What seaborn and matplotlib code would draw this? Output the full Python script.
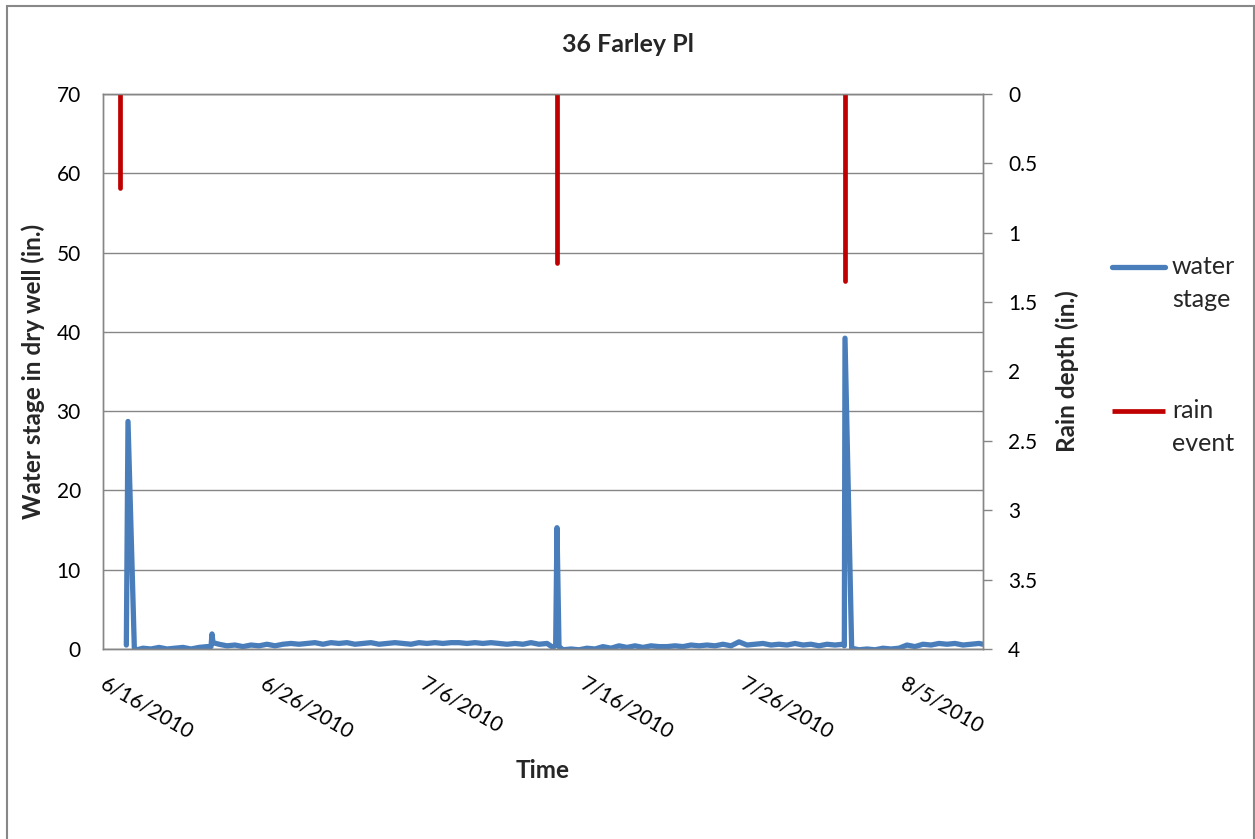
import numpy as np
import pandas as pd
import matplotlib
matplotlib.use("Agg")
import matplotlib.pyplot as plt
import matplotlib.dates as mdates
import matplotlib.transforms as mtransforms
from matplotlib.ticker import FixedLocator, FuncFormatter
from matplotlib.patches import Rectangle
import seaborn as sns

# ---------------- data ----------------
water_time = [
    "2010-06-17 11:00", "2010-06-17 13:30", "2010-06-17 23:00", "2010-06-18 03:00",
    "2010-06-18 12:00", "2010-06-19 00:00", "2010-06-19 12:00", "2010-06-20 00:00",
    "2010-06-20 12:00", "2010-06-21 00:00", "2010-06-21 12:00", "2010-06-22 00:00",
    "2010-06-22 12:00", "2010-06-22 18:00", "2010-06-22 19:30", "2010-06-22 21:00",
    "2010-06-23 06:00", "2010-06-23 18:00", "2010-06-24 06:00", "2010-06-24 18:00",
    "2010-06-25 06:00", "2010-06-25 18:00", "2010-06-26 06:00", "2010-06-26 18:00",
    "2010-06-27 06:00", "2010-06-27 18:00", "2010-06-28 06:00", "2010-06-28 18:00",
    "2010-06-29 06:00", "2010-06-29 18:00", "2010-06-30 06:00", "2010-06-30 18:00",
    "2010-07-01 06:00", "2010-07-01 18:00", "2010-07-02 06:00", "2010-07-02 18:00",
    "2010-07-03 06:00", "2010-07-03 18:00", "2010-07-04 06:00", "2010-07-04 18:00",
    "2010-07-05 06:00", "2010-07-05 18:00", "2010-07-06 06:00", "2010-07-06 18:00",
    "2010-07-07 06:00", "2010-07-07 18:00", "2010-07-08 06:00", "2010-07-08 18:00",
    "2010-07-09 06:00", "2010-07-09 18:00", "2010-07-10 06:00", "2010-07-10 18:00",
    "2010-07-11 06:00", "2010-07-11 18:00", "2010-07-12 06:00", "2010-07-12 18:00",
    "2010-07-13 06:00", "2010-07-13 18:00", "2010-07-14 03:00", "2010-07-14 07:00",
    "2010-07-14 09:00", "2010-07-14 12:00", "2010-07-14 18:00", "2010-07-15 06:00",
    "2010-07-15 18:00", "2010-07-16 06:00", "2010-07-16 18:00", "2010-07-17 06:00",
    "2010-07-17 18:00", "2010-07-18 06:00", "2010-07-18 18:00", "2010-07-19 06:00",
    "2010-07-19 18:00", "2010-07-20 06:00", "2010-07-20 18:00", "2010-07-21 06:00",
    "2010-07-21 18:00", "2010-07-22 06:00", "2010-07-22 18:00", "2010-07-23 06:00",
    "2010-07-23 18:00", "2010-07-24 06:00", "2010-07-24 18:00", "2010-07-25 06:00",
    "2010-07-25 18:00", "2010-07-26 06:00", "2010-07-26 18:00", "2010-07-27 06:00",
    "2010-07-27 18:00", "2010-07-28 06:00", "2010-07-28 18:00", "2010-07-29 06:00",
    "2010-07-29 18:00", "2010-07-30 06:00", "2010-07-30 18:00", "2010-07-31 06:00",
    "2010-07-31 18:00", "2010-08-01 06:00", "2010-08-01 08:00", "2010-08-01 09:00",
    "2010-08-01 19:00", "2010-08-02 06:00", "2010-08-02 18:00", "2010-08-03 06:00",
    "2010-08-03 18:00", "2010-08-04 06:00", "2010-08-04 18:00", "2010-08-05 06:00",
    "2010-08-05 18:00", "2010-08-06 06:00", "2010-08-06 18:00", "2010-08-07 06:00",
    "2010-08-07 18:00", "2010-08-08 06:00", "2010-08-08 18:00", "2010-08-09 06:00",
    "2010-08-09 18:00", "2010-08-10 00:00",
]
water_stage = [
    0.5, 28.7, 0.1, -0.1,
    0.1, 0.0, 0.2, 0.0,
    0.1, 0.2, 0.0, 0.2,
    0.3, 0.3, 1.9, 0.8,
    0.6, 0.4, 0.5, 0.3,
    0.5, 0.4, 0.6, 0.4,
    0.6, 0.7, 0.6, 0.7,
    0.8, 0.6, 0.8, 0.7,
    0.8, 0.6, 0.7, 0.8,
    0.6, 0.7, 0.8, 0.7,
    0.6, 0.8, 0.7, 0.8,
    0.7, 0.8, 0.8, 0.7,
    0.8, 0.7, 0.8, 0.7,
    0.6, 0.7, 0.6, 0.8,
    0.6, 0.7, 0.2, 0.5,
    15.3, 0.3, -0.1, 0.0,
    -0.1, 0.1, 0.0, 0.3,
    0.1, 0.4, 0.2, 0.4,
    0.2, 0.4, 0.3, 0.3,
    0.4, 0.3, 0.5, 0.4,
    0.5, 0.4, 0.6, 0.4,
    0.9, 0.5, 0.6, 0.7,
    0.5, 0.6, 0.5, 0.7,
    0.5, 0.6, 0.4, 0.6,
    0.5, 0.6, 0.4, 39.2,
    0.1, -0.1, 0.0, -0.1,
    0.1, 0.0, 0.1, 0.5,
    0.3, 0.6, 0.5, 0.7,
    0.6, 0.7, 0.5, 0.6,
    0.7, 0.6,
]

rain_time = ["2010-06-17 01:30", "2010-07-14 09:00", "2010-08-01 09:00"]
rain_depth = [0.68, 1.22, 1.35]

x_ticks = ["2010-06-16", "2010-06-26", "2010-07-06", "2010-07-16", "2010-07-26", "2010-08-05"]
x_min, x_max = "2010-06-16", "2010-08-10"
left_ticks = [0, 10, 20, 30, 40, 50, 60, 70]
right_ticks = [0, 0.5, 1, 1.5, 2, 2.5, 3, 3.5, 4]

# ---------------- style ----------------
sns.set_style("white")
plt.rcParams["font.family"] = ["Lato", "DejaVu Sans"]

BLUE = "#4A7EBB"
RED = "#C00000"
GRID = "#868686"

W, H = 1255, 839
fig = plt.figure(figsize=(W / 100, H / 100), dpi=100)
L, R, T, B = 103, 983, 94, 649
ax = fig.add_axes([L / W, 1 - B / H, (R - L) / W, (B - T) / H])

df = pd.DataFrame({"time": pd.to_datetime(water_time), "stage": water_stage})
sns.lineplot(data=df, x="time", y="stage", ax=ax, color=BLUE, lw=3.8,
             estimator=None, sort=False, legend=False,
             solid_capstyle="round", solid_joinstyle="round")

ax.set_xlim(pd.Timestamp(x_min), pd.Timestamp(x_max))
ax.set_ylim(0, 70)
ax.yaxis.set_major_locator(FixedLocator(left_ticks))
ax.xaxis.set_major_locator(FixedLocator(mdates.date2num(pd.to_datetime(x_ticks))))
ax.xaxis.set_major_formatter(FuncFormatter(
    lambda v, p: (lambda d: f"{d.month}/{d.day}/{d.year}")(mdates.num2date(v))))
ax.grid(axis="y", color=GRID, lw=1.0)
ax.grid(axis="x", visible=False)
for s in ["left", "bottom", "top", "right"]:
    ax.spines[s].set_color(GRID)
    ax.spines[s].set_linewidth(1.0)
ax.tick_params(axis="y", length=0, pad=16, labelsize=15, labelcolor="black")
ax.tick_params(axis="x", length=0, pad=16, labelsize=15, labelcolor="black")
shift = mtransforms.ScaledTranslation(4 / 100, -2 / 100, fig.dpi_scale_trans)
for lab in ax.get_xticklabels():
    lab.set_rotation(-30)
    lab.set_ha("left")
    lab.set_va("top")
    lab.set_rotation_mode("anchor")
    lab.set_transform(lab.get_transform() + shift)

ax.set_xlabel("Time", fontsize=17.5, fontweight="bold")
ax.set_ylabel("Water stage in dry well (in.)", fontsize=17.5, fontweight="bold")
ax.xaxis.set_label_coords(0.5, -0.198)
ax.yaxis.set_label_coords(-0.066, 0.5)

ax2 = ax.twinx()
ax2.set_position(ax.get_position())
rl = ax2.vlines(pd.to_datetime(rain_time), 0, rain_depth, color=RED, lw=3.4)
rl.set_capstyle("round")
ax2.set_ylim(4, 0)
ax2.yaxis.set_major_locator(FixedLocator(right_ticks))
ax2.yaxis.set_major_formatter(FuncFormatter(lambda v, p: f"{v:g}"))
ax2.tick_params(axis="y", length=6.5, width=1.0, color=GRID, pad=11.5,
                labelsize=15, labelcolor="black", direction="out")
for s in ["left", "bottom", "top", "right"]:
    ax2.spines[s].set_color(GRID)
    ax2.spines[s].set_linewidth(1.0)
ax2.set_ylabel("Rain depth (in.)", fontsize=17.5, fontweight="bold")
ax2.yaxis.set_label_coords(1.0818, 0.5)
ax2.grid(False)

fig.text(0.5, 1 - 44 / H, "36 Farley Pl", ha="center", va="center",
         fontsize=18, fontweight="bold")

h1 = ax.get_lines()[0]
leg = ax2.legend([h1, rl], ["water\nstage", "rain\nevent"],
                 loc="upper left", bbox_to_anchor=(1112 / W, 1 - 255 / H),
                 bbox_transform=fig.transFigure, frameon=False,
                 fontsize=18, handlelength=2.1, handletextpad=0.3,
                 borderpad=0, borderaxespad=0, labelspacing=3.5)
for t in leg.get_texts():
    t.set_linespacing(1.55)
# put each legend line level with the first line of its label
for ln in leg.get_lines():
    ln.set_ydata(np.asarray(ln.get_ydata(), dtype=float) + 11.9)

fig.patches.append(Rectangle((6.5 / W, -0.05), (1253.5 - 6.5) / W, 1.05 - 5.5 / H,
                             transform=fig.transFigure, fill=False,
                             edgecolor="#888888", lw=1.5))

fig.savefig("out.png", dpi=100)
